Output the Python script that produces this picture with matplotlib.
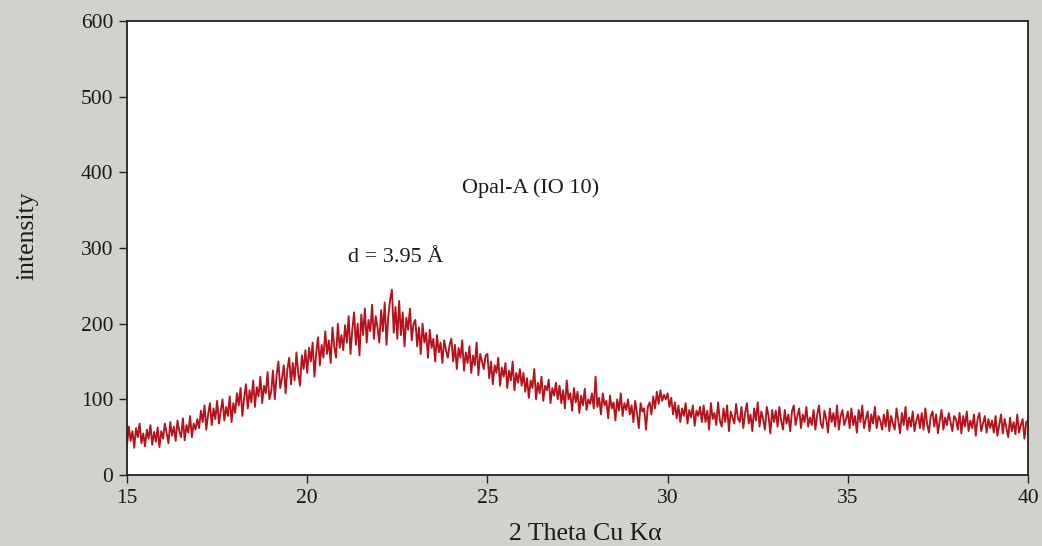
import numpy as np
import matplotlib
matplotlib.use("Agg")
import matplotlib.pyplot as plt

plt.rcParams['font.family'] = ['Liberation Serif', 'DejaVu Serif']

# 2-theta start/step of the scan
theta_start = 15.0
theta_step = 0.05

intensity = [
    40, 64, 45, 58, 36, 62, 50, 68, 42, 55, 38, 60, 48, 66, 40, 57, 44, 63, 37, 58,
    48, 68, 55, 42, 70, 52, 64, 45, 72, 58, 50, 75, 46, 66, 56, 78, 50, 68, 60, 74,
    62, 85, 70, 92, 60, 80, 95, 66, 88, 74, 98, 68, 84, 100, 72, 90, 78, 104, 70, 95,
    82, 108, 92, 115, 78, 102, 120, 88, 112, 96, 125, 90, 116, 104, 130, 95, 118, 108, 136, 100,
    110, 138, 100, 132, 150, 115, 128, 145, 108, 140, 155, 120, 148, 125, 162, 135, 118, 158, 140, 165,
    135, 168, 150, 175, 130, 162, 182, 145, 172, 155, 190, 160, 178, 148, 195, 170, 155, 200, 168, 185,
    165, 198, 175, 210, 160, 192, 215, 172, 200, 158, 212, 185, 220, 175, 205, 190, 225, 180, 210, 195,
    175, 218, 190, 228, 172, 210, 232, 245, 188, 222, 180, 230, 185, 215, 170, 208, 192, 220, 178, 200,
    205, 170, 195, 160, 200, 175, 188, 155, 192, 168, 180, 150, 185, 162, 175, 148, 178, 165, 155, 172,
    180, 150, 172, 140, 168, 155, 178, 138, 162, 148, 170, 135, 158, 145, 175, 132, 160, 150, 140, 158,
    160, 128, 150, 120, 145, 135, 155, 118, 142, 130, 148, 115, 138, 125, 150, 112, 135, 122, 140, 118,
    135, 110, 128, 102, 125, 115, 140, 100, 122, 108, 130, 98, 118, 112, 126, 95, 115, 105, 122, 100,
    118, 95, 112, 88, 125, 100, 108, 85, 115, 96, 110, 82, 105, 92, 114, 86, 100, 94, 108, 88,
    130, 90, 102, 80, 108, 92, 98, 75, 105, 88, 96, 72, 100, 85, 108, 78, 95, 86, 100, 80,
    92, 70, 98, 82, 62, 95, 84, 88, 60, 90, 96, 80, 104, 88, 110, 94, 112, 98, 106, 100,
    108, 90, 102, 80, 96, 75, 92, 70, 88, 78, 95, 68, 86, 76, 92, 65, 85, 78, 90, 70,
    92, 70, 85, 60, 95, 74, 82, 66, 96, 72, 64, 88, 70, 92, 58, 84, 76, 68, 94, 75,
    70, 90, 62, 82, 95, 68, 80, 58, 88, 72, 96, 64, 84, 74, 60, 90, 78, 55, 86, 70,
    85, 64, 90, 72, 60, 86, 68, 80, 58, 84, 92, 66, 78, 88, 62, 80, 70, 90, 64, 76,
    66, 86, 60, 80, 92, 68, 62, 85, 74, 56, 88, 70, 82, 64, 92, 60, 78, 86, 66, 74,
    84, 62, 88, 66, 78, 56, 86, 70, 92, 62, 74, 84, 58, 80, 68, 90, 62, 78, 72, 60,
    80, 64, 86, 58, 78, 68, 60, 88, 72, 55, 82, 66, 90, 60, 76, 64, 84, 58, 72, 80,
    62, 82, 60, 88, 68, 56, 78, 84, 64, 80, 55, 72, 86, 60, 76, 66, 82, 70, 58, 78,
    74, 60, 82, 55, 78, 64, 84, 58, 72, 62, 80, 52, 74, 82, 58, 68, 78, 56, 74, 62,
    72, 56, 78, 52, 66, 80, 55, 74, 62, 50, 76, 58, 70, 54, 80, 56, 66, 74, 48, 70,
    72,
]

x_ticks = [15, 20, 25, 30, 35, 40]
y_ticks = [0, 100, 200, 300, 400, 500, 600]

two_theta = theta_start + theta_step * np.arange(len(intensity))

bg = '#d0d3cb'
fig = plt.figure(figsize=(10.42, 5.46), dpi=100, facecolor=bg)
ax = fig.add_axes([0.1219, 0.130, 0.8647, 0.8315])
ax.set_facecolor('white')

ax.plot(two_theta, intensity, color='#b5121b', linewidth=1.35)

ax.set_xlim(15, 40)
ax.set_ylim(0, 600)
ax.set_xticks(x_ticks)
ax.set_yticks(y_ticks)
ax.tick_params(direction='out', length=6, width=1, colors='#222222',
               labelsize=15.5, labelcolor='#1a1a1a', pad=4)
for s in ax.spines.values():
    s.set_color('#222222')
    s.set_linewidth(1.3)

ax.set_xlabel('2 Theta Cu K\u03b1', fontsize=18.5, color='#1a1a1a', labelpad=11)
ax.set_ylabel('intensity', fontsize=18.5, color='#1a1a1a', labelpad=30)
ax.xaxis.label.set_x(0.509)
ax.yaxis.label.set_y(0.526)

ax.text(24.3, 379, 'Opal-A (IO 10)', fontsize=16, va='center', ha='left', color='#1a1a1a')
ax.text(21.13, 287, 'd = 3.95 \u00c5', fontsize=16, va='center', ha='left', color='#1a1a1a')

fig.savefig('out.png', dpi=100, facecolor=bg)
